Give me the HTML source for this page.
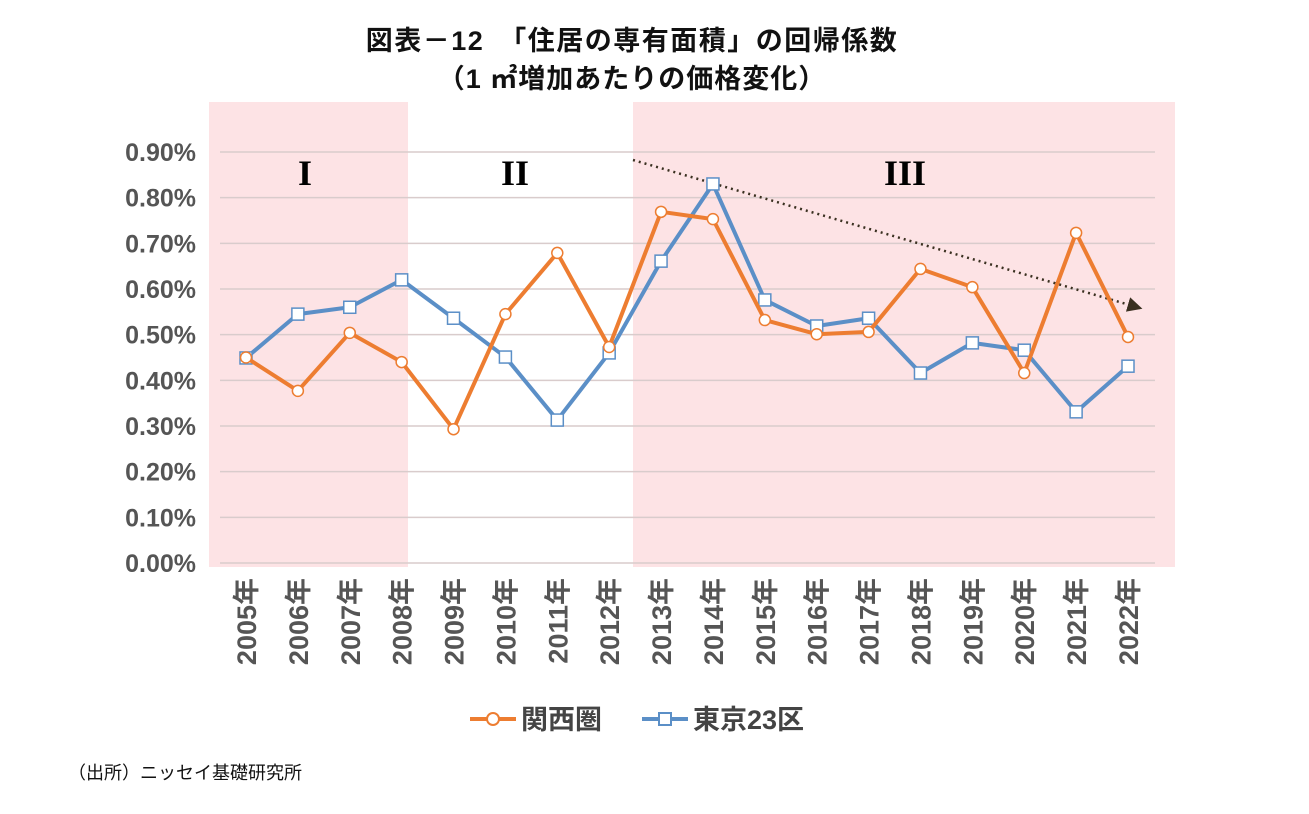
<!DOCTYPE html>
<html><head><meta charset="utf-8"><style>
body{margin:0;background:#fff;}
svg text{font-family:"Liberation Sans","Noto Sans CJK JP",sans-serif;}
svg text.serif{font-family:"Liberation Serif",serif;}
</style></head><body>
<svg width="1309" height="809" xmlns="http://www.w3.org/2000/svg">
<text x="632" y="50" text-anchor="middle" font-size="27" font-weight="bold" fill="#111" letter-spacing="1.5">図表－12　「住居の専有面積」の回帰係数</text>
<text x="632" y="88" text-anchor="middle" font-size="27" font-weight="bold" fill="#111" letter-spacing="1">（1 ㎡増加あたりの価格変化）</text>
<rect x="209" y="102" width="199" height="465" fill="#fde3e5"/>
<rect x="633" y="102" width="542" height="465" fill="#fde3e5"/>
<g id="grid"></g><g id="ylab"></g><g id="xlab"></g>
<text class="serif" x="305" y="185" text-anchor="middle" font-size="36" font-weight="bold">I</text>
<text class="serif" x="515" y="185" text-anchor="middle" font-size="36" font-weight="bold">II</text>
<text class="serif" x="905" y="185" text-anchor="middle" font-size="36" font-weight="bold">III</text>
<defs><marker id="ah" markerWidth="6" markerHeight="6" refX="5" refY="3" orient="auto"><path d="M0,0L6,3L0,6z" fill="#3a3020"/></marker></defs>
<line x1="633" y1="160" x2="1140" y2="308" stroke="#3a3020" stroke-width="2.5" stroke-dasharray="2,4" marker-end="url(#ah)"/>
<g id="series"></g>
<g>
<line x1="470" y1="719" x2="516" y2="719" stroke="#ed7d31" stroke-width="4"/><circle cx="493" cy="719" r="6" fill="#fff" stroke="#ed7d31" stroke-width="2"/>
<text x="521" y="729" font-size="27" font-weight="bold" fill="#444">関西圏</text>
<line x1="642" y1="719" x2="688" y2="719" stroke="#5b8fc7" stroke-width="4"/><rect x="659" y="713" width="12" height="12" fill="#fff" stroke="#5b8fc7" stroke-width="2"/>
<text x="693" y="729" font-size="27" font-weight="bold" fill="#444">東京23区</text>
</g>
<text x="68" y="779" font-size="18" fill="#111">（出所）ニッセイ基礎研究所</text>
</svg>
<script>
const years=["2005年","2006年","2007年","2008年","2009年","2010年","2011年","2012年","2013年","2014年","2015年","2016年","2017年","2018年","2019年","2020年","2021年","2022年"];
const kansai=[0.45,0.377,0.504,0.44,0.293,0.545,0.679,0.473,0.769,0.753,0.532,0.501,0.506,0.644,0.604,0.416,0.723,0.495];
const tokyo=[0.449,0.545,0.56,0.62,0.536,0.451,0.313,0.46,0.661,0.83,0.576,0.519,0.536,0.416,0.482,0.466,0.331,0.431];
const yTicks=[0,0.1,0.2,0.3,0.4,0.5,0.6,0.7,0.8,0.9];
const NS="http://www.w3.org/2000/svg";
const xS=i=>246+i*(1128-246)/(years.length-1);
const yS=v=>563-v*(563-152)/0.9;
function mk(t,a,p){const e=document.createElementNS(NS,t);for(const k in a)e.setAttribute(k,a[k]);p.appendChild(e);return e;}
const g=document.getElementById('grid'),yl=document.getElementById('ylab'),xl=document.getElementById('xlab'),s=document.getElementById('series');
yTicks.forEach(v=>{const l=mk('line',{x1:220,x2:1155,y1:yS(v),y2:yS(v),stroke:'#d9cccc','stroke-width':1.5},g);

const t=mk('text',{x:196,y:yS(v)+9,'text-anchor':'end','font-size':25,'font-weight':'bold',fill:'#555'},yl);t.textContent=v.toFixed(2)+'%';
});
years.forEach((y,i)=>{const t=mk('text',{x:0,y:0,transform:`translate(${xS(i)+10},578) rotate(-90)`,'text-anchor':'end','font-size':27,'font-weight':'bold',fill:'#555'},xl);t.textContent=y;
});
function draw(data,col,shape,name){
const p=mk('polyline',{points:data.map((v,i)=>xS(i)+','+yS(v)).join(' '),fill:'none',stroke:col,'stroke-width':4,'stroke-linejoin':'round'},s);

data.forEach((v,i)=>{let m;if(shape==='c')m=mk('circle',{cx:xS(i),cy:yS(v),r:5.5,fill:'#fff',stroke:col,'stroke-width':1.5},s);
else m=mk('rect',{x:xS(i)-6,y:yS(v)-6,width:12,height:12,fill:'#fff',stroke:col,'stroke-width':1.5},s);
});}
draw(tokyo,'#5b8fc7','r','tokyo');
draw(kansai,'#ed7d31','c','kansai');
</script>
</body></html>
